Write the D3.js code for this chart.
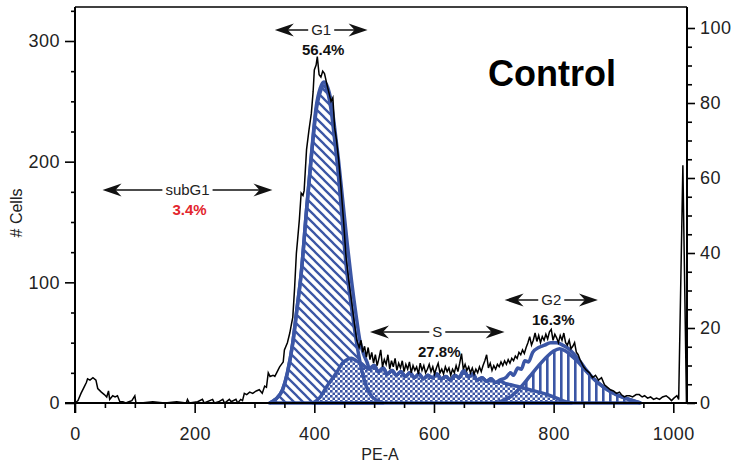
<!DOCTYPE html>
<html><head><meta charset="utf-8">
<script src="https://cdn.jsdelivr.net/npm/d3@7"></script>
<style>
body{margin:0;background:#fff}
svg{display:block}
text{font-family:"Liberation Sans",Arial,Helvetica,sans-serif}
</style>
</head><body>
<svg id="c" width="738" height="467"></svg>
<script>
// ---------- DATA ----------
const xTicks = [0, 200, 400, 600, 800, 1000];
const leftTicks = [0, 100, 200, 300];
const rightTicks = [0, 20, 40, 60, 80, 100];
const xLabel = "PE-A";
const yLabel = "# Cells";
const title = "Control";

// measured histogram [channel, count]
const histogram = [
[0,0],[5,2],[10,8],[15,13],[19,17],[21,20],[25,19],[30,21],[35,19],[38,12],[44,9],[49,7],[53,5],[56,10],[58,3],[63,6],[67,5],[71,6],[75,1],[80,1],[85,0],[90,1],[95,2],[100,6],[102,0],
[110,0],[130,1],[150,0],[170,1],[186,0],[188,3],[191,0],[205,1],[213,3],[216,0],[230,3],[233,0],[240,1],[247,3],[250,0],[258,3],[261,1],[269,3],[272,0],[277,3],[280,2],
[283,8],[287,7],[292,9],[297,8],[303,10],[308,11],[313,8],[317,14],[320,13],[323,25],[326,22],[331,23],[334,22],[337,25],[342,30],[345,32],[348,34],[350,44],[355,50],[359,58],[362,66],[364,71],[367,95],[370,124],[372,135],[375,152],[378,174],[381,172],[383,176],[387,210],[391,226],[395,240],[398,258],[400,276],[403,280],[405,287],[408,272],[411,270],[414,275],[417,273],[422,262],[428,250],[431,253],[434,228],[437,218],[441,200],[445,176],[449,150],[453,121],[458,100],[462,85],[467,66],[471,52],
[475,46],[478,52],[481,42],[484,47],[487,38],[490,46],[493,36],[496,42],[499,33],[502,40],[505,31],[508,37],[511,44],[514,30],[517,36],[520,32],[523,40],[526,28],[529,35],[532,30],[535,37],[538,27],[541,33],[544,29],[547,35],[550,26],[553,32],[556,28],[559,34],[562,25],[565,31],[568,27],[571,30],[574,24],[577,33],[580,27],[583,31],[586,25],[589,28],[592,32],[595,26],[598,30],[601,24],[604,29],[607,33],[610,25],[613,28],[616,24],[619,30],[622,26],[625,29],[628,23],[631,28],[634,25],[637,31],[640,26],[643,33],[646,41],[649,28],[652,32],[655,27],[658,30],[661,25],[664,29],[667,24],[670,28],[673,25],[676,30],[679,26],[682,31],[685,35],[688,40],[691,29],[694,33],[697,27],[700,31],[703,28],[706,32],[709,30],[712,34],[715,31],[718,35],[721,32],[724,36],[727,33],[730,37],[733,35],[736,39],[739,37],[742,42],[745,40],[748,44],[751,41],[754,46],[757,50],[760,55],[763,48],[766,52],[769,58],[772,51],[775,56],[778,50],[781,55],[784,52],[787,57],[790,53],[793,59],[796,61],[799,52],[802,57],[805,54],[808,50],[811,56],[814,52],[817,58],[820,50],[823,48],[826,52],[829,45],[832,47],[835,50],[838,42],[841,40],[844,36],[847,33],[850,30],[855,27],[860,25],[865,21],[870,23],[875,19],[880,21],[885,15],[890,13],[895,11],[900,10],[905,8],[910,9],[913,7],[918,5],[922,6],[927,6],[932,5],[938,7],[943,7],[948,5],[952,6],[957,4],[962,5],[967,3],[972,4],[977,3],[982,5],[988,6],[993,4],[997,2],[1001,4],[1006,6],[1009,3],[1016,197],[1022,0]
];

// model components [channel, count]
const g1Fit = [[325,0],[335,3],[347,11],[355,25],[364,50],[371,78],[378,107],[387,160],[395,204],[403,242],[410,258],[416,263],[422,258],[428,243],[434,218],[440,190],[445,162],[453,115],[462,80],[470,52],[478,30],[486,15],[495,6],[505,2],[515,0]];
const sFit = [[398,0],[410,5],[420,13],[430,20],[437,25],[447,33],[455,36],[462,37],[470,35],[478,33],[485,30],[492,28],[500,31],[507,26],[515,29],[522,24],[530,27],[537,23],[545,26],[552,22],[560,25],[567,21],[575,24],[582,20],[590,23],[597,21],[605,24],[612,20],[620,22],[627,19],[635,23],[642,21],[650,27],[657,22],[665,24],[672,19],[680,21],[688,18],[695,20],[703,17],[710,18],[720,16],[730,15],[745,13],[760,11],[775,9],[790,7],[805,4],[820,1],[830,0]];
const g2Fit = [[700,0],[715,2],[730,6],[745,13],[760,22],[775,31],[790,39],[800,43],[810,45],[820,43],[830,39],[843,33],[855,26],[865,21],[876,16],[890,11],[905,7],[920,4],[938,1],[945,0]];
const sumFit = [[325,0],[335,3],[347,11],[355,25],[364,50],[371,78],[378,107],[387,160],[395,205],[403,245],[410,261],[416,266],[422,262],[428,250],[434,228],[440,203],[447,170],[455,132],[462,102],[470,72],[476,52],[482,41],[488,34],[492,29],[500,31],[507,26],[515,29],[522,24],[530,27],[537,23],[545,26],[552,22],[560,25],[567,21],[575,24],[582,20],[590,23],[597,21],[605,24],[612,20],[620,22],[627,19],[635,23],[642,21],[650,27],[657,22],[665,24],[672,19],[680,21],[688,18],[695,20],[703,17],[710,19],[720,21],[728,25],[733,23],[740,29],[746,28],[752,35],[758,34],[765,42],[775,46],[785,48],[795,50],[805,50],[815,48],[825,45],[835,40],[845,34],[855,27],[865,21],[876,16],[890,11],[905,7],[920,4],[938,1],[945,0]];

// gates: name, percentage, channel range
const gateNames = ["subG1", "G1", "S", "G2"];
const gatePct = ["3.4%", "56.4%", "27.8%", "16.3%"];
const gateFrom = [46, 334, 493, 718];
const gateTo = [330, 489, 718, 874];

// ---------- DRAW ----------
const svg = d3.select("#c");
const blue = "#3b56a5";
const x = d3.scaleLinear().domain([0, 1000]).range([75, 673.3]);
const yL = d3.scaleLinear().domain([0, 300]).range([403, 41]);
const yR = d3.scaleLinear().domain([0, 100]).range([403, 28]);
const plotTop = 7, plotRight = 687;

const defs = svg.append("defs");
let p = defs.append("pattern").attr("id", "diag").attr("patternUnits", "userSpaceOnUse").attr("width", 9).attr("height", 9);
p.append("rect").attr("width", 9).attr("height", 9).attr("fill", "#fff");
p.append("path").attr("d", "M-2,-2L11,11M-2,7L2,11M7,-2L11,2").attr("stroke", blue).attr("stroke-width", 2.3);
p = defs.append("pattern").attr("id", "check").attr("patternUnits", "userSpaceOnUse").attr("width", 5).attr("height", 5);
p.append("rect").attr("width", 5).attr("height", 5).attr("fill", "#fff");
p.append("rect").attr("width", 2.6).attr("height", 2.6).attr("fill", blue);
p.append("rect").attr("x", 2.5).attr("y", 2.5).attr("width", 2.6).attr("height", 2.6).attr("fill", blue);
p = defs.append("pattern").attr("id", "vert").attr("patternUnits", "userSpaceOnUse").attr("width", 7).attr("height", 10);
p.append("rect").attr("width", 7).attr("height", 10).attr("fill", "#fff");
p.append("rect").attr("width", 2.6).attr("height", 10).attr("fill", blue);

const area = d3.area().x(d => x(d[0])).y0(yL(0)).y1(d => yL(d[1])).curve(d3.curveMonotoneX);
const line = d3.line().x(d => x(d[0])).y(d => yL(d[1])).curve(d3.curveMonotoneX);

// fills
svg.append("path").attr("d", area(g2Fit)).attr("fill", "url(#vert)");
svg.append("path").attr("d", area(g1Fit)).attr("fill", "url(#diag)");
svg.append("path").attr("d", area(sFit)).attr("fill", "url(#check)");
// outlines
[g2Fit, g1Fit, sFit].forEach(d => {
  svg.append("path").attr("d", area(d)).attr("fill", "none").attr("stroke", blue).attr("stroke-width", 3.5).attr("stroke-linejoin", "round");
});
svg.append("path").attr("d", line(sumFit)).attr("fill", "none").attr("stroke", blue).attr("stroke-width", 3.5).attr("stroke-linejoin", "round");

// histogram
svg.append("path").attr("d", d3.line().x(d => x(d[0])).y(d => yL(d[1]))(histogram))
  .attr("fill", "none").attr("stroke", "#000").attr("stroke-width", 1.5).attr("stroke-linejoin", "miter");

// frame lines
svg.append("line").attr("x1", 75).attr("x2", plotRight).attr("y1", plotTop).attr("y2", plotTop).attr("stroke", "#000").attr("stroke-width", 1.5);
svg.append("line").attr("x1", 75).attr("x2", 75).attr("y1", plotTop).attr("y2", 413).attr("stroke", "#000").attr("stroke-width", 2);
svg.append("line").attr("x1", plotRight).attr("x2", plotRight).attr("y1", plotTop).attr("y2", 403).attr("stroke", "#000").attr("stroke-width", 2);
svg.append("line").attr("x1", 65).attr("x2", 697).attr("y1", 403).attr("y2", 403).attr("stroke", "#000").attr("stroke-width", 2);

function styleAxis(g) {
  g.select(".domain").remove();
  g.selectAll(".tick line").attr("stroke", "#000").attr("stroke-width", 1.6);
  g.selectAll(".tick text").attr("fill", "#222").style("font-size", "18px").style("letter-spacing", "0.5px")
    .style("font-family", '"Liberation Sans",Arial,sans-serif');
}
// x axis
svg.append("g").attr("transform", "translate(0,403)")
  .call(d3.axisBottom(x).tickValues(d3.range(50, 1001, 50).filter(v => v % 200)).tickSize(5).tickFormat(""))
  .call(styleAxis);
svg.append("g").attr("transform", "translate(0,403)")
  .call(d3.axisBottom(x).tickValues(xTicks).tickSize(10).tickPadding(14).tickFormat(d3.format("d")))
  .call(styleAxis);
// left axis
svg.append("g").attr("transform", "translate(75,0)")
  .call(d3.axisLeft(yL).tickValues(d3.range(25, 326, 25).filter(v => v % 100)).tickSize(4).tickFormat(""))
  .call(styleAxis);
svg.append("g").attr("transform", "translate(75,0)")
  .call(d3.axisLeft(yL).tickValues(leftTicks).tickSize(10).tickPadding(5).tickFormat(d3.format("d")))
  .call(styleAxis);
// right axis
svg.append("g").attr("transform", `translate(${plotRight},0)`)
  .call(d3.axisRight(yR).tickValues(d3.range(5, 101, 5).filter(v => v % 20)).tickSize(5).tickFormat(""))
  .call(styleAxis);
svg.append("g").attr("transform", `translate(${plotRight},0)`)
  .call(d3.axisRight(yR).tickValues(rightTicks).tickSize(8).tickPadding(5).tickFormat(d3.format("d")))
  .call(styleAxis);

// axis titles
svg.append("text").attr("x", 380).attr("y", 460).attr("text-anchor", "middle").attr("fill", "#222").style("font-size", "16px").text(xLabel);
svg.append("text").attr("transform", "translate(22,213) rotate(-90)").attr("text-anchor", "middle").attr("fill", "#222").style("font-size", "16px").text(yLabel);

// title
svg.append("text").attr("x", 488).attr("y", 86).attr("fill", "#000").style("font-size", "36px").style("font-weight", "bold").text(title);

// gate annotations
const gateY = [190, 30, 332, 300];
const pctColor = ["#e3262e", "#111", "#111", "#111"];
function arrowHead(g, tipX, y, dir) {
  const L = 19, H = 6.5, N = 13;
  g.append("path").attr("d", `M${tipX},${y}L${tipX + dir * L},${y - H}L${tipX + dir * N},${y}L${tipX + dir * L},${y + H}Z`).attr("fill", "#111");
}
gateNames.forEach((name, i) => {
  const g = svg.append("g");
  const x1 = x(gateFrom[i]), x2 = x(gateTo[i]), y = gateY[i];
  const mid = (x1 + x2) / 2;
  const t = g.append("text").attr("x", mid).attr("y", y + 5).attr("text-anchor", "middle").attr("fill", "#222").style("font-size", "15px").text(name);
  const w = t.node().getComputedTextLength();
  g.append("line").attr("x1", x1 + 10).attr("x2", mid - w / 2 - 3).attr("y1", y).attr("y2", y).attr("stroke", "#111").attr("stroke-width", 1.5);
  g.append("line").attr("x1", mid + w / 2 + 3).attr("x2", x2 - 10).attr("y1", y).attr("y2", y).attr("stroke", "#111").attr("stroke-width", 1.5);
  arrowHead(g, x1, y, 1);
  arrowHead(g, x2, y, -1);
  g.append("text").attr("x", mid + 2).attr("y", y + 25).attr("text-anchor", "middle").attr("fill", pctColor[i])
    .style("font-size", "15px").style("font-weight", "bold").text(gatePct[i]);
});
</script>
</body></html>
